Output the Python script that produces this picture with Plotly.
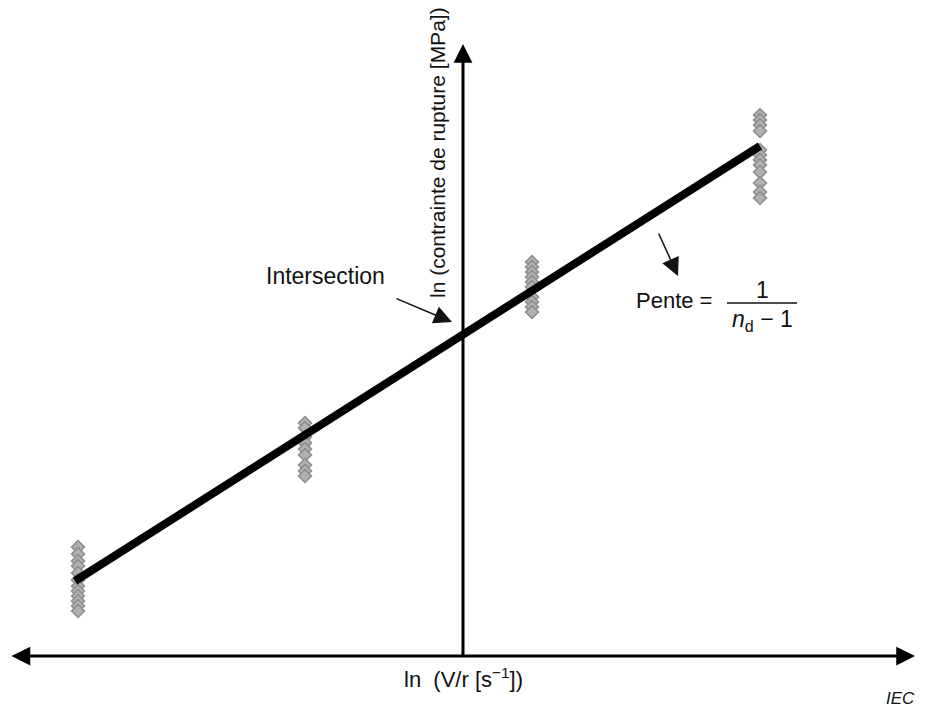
import plotly.graph_objects as go

# Measured ln(stress) values at four stressing rates (arbitrary ln units)
rate_ln = [-3.85, -1.58, 0.69, 2.97]
stress_ln_1 = [1.09, 1.02, 0.95, 0.90, 0.83, 0.76, 0.70, 0.65, 0.60, 0.55, 0.50, 0.45]
stress_ln_2 = [2.33, 2.28, 2.19, 2.13, 2.07, 2.01, 1.91, 1.85, 1.80]
stress_ln_3 = [3.94, 3.89, 3.84, 3.79, 3.74, 3.69, 3.59, 3.54, 3.49, 3.44]
stress_ln_4 = [5.41, 5.36, 5.31, 5.25, 5.06, 5.01, 4.96, 4.91, 4.84, 4.73, 4.64, 4.58]
groups = [stress_ln_1, stress_ln_2, stress_ln_3, stress_ln_4]

# Regression line end points
fit_x = [-3.88, 2.97]
fit_y = [0.75, 5.10]

FONT = "Liberation Sans, Arial, sans-serif"

fig = go.Figure()

pts_x, pts_y = [], []
for xv, ys in zip(rate_ln, groups):
    pts_x += [xv] * len(ys)
    pts_y += ys

fig.add_trace(go.Scatter(
    x=pts_x, y=pts_y, mode="markers",
    marker=dict(symbol="diamond", size=10, color="#b0b0b0",
                line=dict(color="#8c8c8c", width=1.5)),
    hoverinfo="skip", showlegend=False))

fig.add_trace(go.Scatter(
    x=fit_x, y=fit_y, mode="lines",
    line=dict(color="#000000", width=8),
    hoverinfo="skip", showlegend=False))

anns = []
# Horizontal axis with arrowheads at both ends
anns.append(dict(x=4.52, y=0, ax=-4.53, ay=0, xref="x", yref="y", axref="x", ayref="y",
                 showarrow=True, arrowhead=2, arrowside="end+start", arrowwidth=3,
                 arrowsize=1.25, arrowcolor="#000", text=""))
# Vertical axis with arrowhead at top
anns.append(dict(x=0, y=6.12, ax=0, ay=-0.02, xref="x", yref="y", axref="x", ayref="y",
                 showarrow=True, arrowhead=2, arrowwidth=3, arrowsize=1.25,
                 arrowcolor="#000", text=""))
# Pointer arrows
anns.append(dict(x=-0.11, y=3.34, ax=-0.68, ay=3.58, xref="x", yref="y", axref="x", ayref="y",
                 showarrow=True, arrowhead=2, arrowwidth=1.5, arrowsize=2.4,
                 arrowcolor="#111", text=""))
anns.append(dict(x=2.15, y=3.80, ax=1.95, ay=4.24, xref="x", yref="y", axref="x", ayref="y",
                 showarrow=True, arrowhead=2, arrowwidth=1.5, arrowsize=2.4,
                 arrowcolor="#111", text=""))

def label(x, y, text, size=22, angle=0, **kw):
    d = dict(x=x, y=y, xref="x", yref="y", text=text, showarrow=False,
             textangle=angle, font=dict(family=FONT, size=size, color="#111"))
    d.update(kw)
    anns.append(d)

label(-1.38, 3.80, "Intersection", size=23)
label(-0.26, 5.03, "ln (contrainte de rupture [MPa])", size=21, angle=-90)
label(0.0, -0.22, "ln&nbsp;&nbsp;(V/r [s<sup>−1</sup>])", size=22)
label(2.11, 3.56, "Pente =", size=22)
label(2.99, 3.66, "1", size=23)
label(2.99, 3.36, "<i>n</i><sub>d</sub> − 1", size=23)
label(4.37, -0.42, "<i>IEC</i>", size=17)

fig.update_layout(
    width=928, height=710,
    margin=dict(l=0, r=0, t=0, b=0),
    paper_bgcolor="white", plot_bgcolor="white",
    xaxis=dict(range=[-4.63, 4.65], visible=False, fixedrange=True),
    yaxis=dict(range=[-0.54, 6.56], visible=False, fixedrange=True),
    annotations=anns,
    shapes=[dict(type="line", xref="x", yref="y", x0=2.64, x1=3.34, y0=3.53, y1=3.53,
                 line=dict(color="#111", width=1.5))],
)

fig.write_html("out.html")
